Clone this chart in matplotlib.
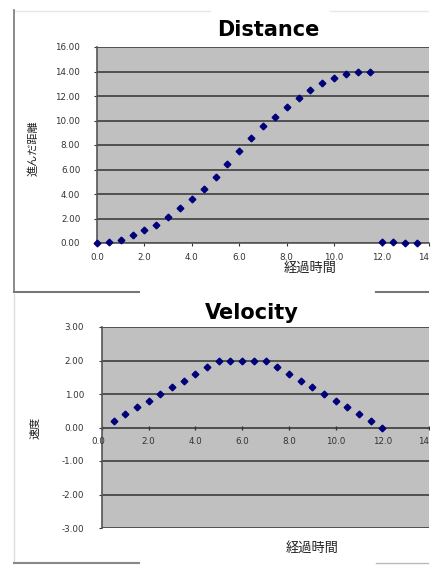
import matplotlib
matplotlib.use("Agg")
import matplotlib.pyplot as plt
from matplotlib.lines import Line2D

plt.rcParams['font.family'] = ['DejaVu Sans', 'Noto Sans CJK JP']

# ---- data ----
dist_t = [0.0, 0.5, 1.0, 1.5, 2.0, 2.5, 3.0, 3.5, 4.0, 4.5, 5.0, 5.5, 6.0, 6.5,
          7.0, 7.5, 8.0, 8.5, 9.0, 9.5, 10.0, 10.5, 11.0, 11.5, 12.0, 12.5, 13.0, 13.5]
dist_v = [0.0, 0.05, 0.27, 0.62, 1.03, 1.46, 2.1, 2.84, 3.57, 4.43, 5.4, 6.46, 7.5, 8.57,
          9.54, 10.3, 11.1, 11.84, 12.5, 13.05, 13.43, 13.76, 13.92, 14.0, 0.05, 0.05, 0.0, 0.0]
vel_t = [0.5, 1.0, 1.5, 2.0, 2.5, 3.0, 3.5, 4.0, 4.5, 5.0, 5.5, 6.0,
         6.5, 7.0, 7.5, 8.0, 8.5, 9.0, 9.5, 10.0, 10.5, 11.0, 11.5, 12.0]
vel_v = [0.2, 0.4, 0.6, 0.8, 1.0, 1.2, 1.4, 1.6, 1.8, 2.0, 2.0, 2.0,
         2.0, 2.0, 1.8, 1.6, 1.4, 1.2, 1.0, 0.8, 0.6, 0.4, 0.2, 0.0]
x_ticks = [0, 2, 4, 6, 8, 10, 12, 14]
x_ticklabels = ["0.0", "2.0", "4.0", "6.0", "8.0", "10.0", "12.0", "14"]
dist_yticks = [0, 2, 4, 6, 8, 10, 12, 14, 16]
vel_yticks = [-3, -2, -1, 0, 1, 2, 3]
title_dist = "Distance"
title_vel = "Velocity"
xlabel = "経過時間"
ylabel_dist = "進んだ距離"
ylabel_vel = "速度"

W, H = 434, 565
fig = plt.figure(figsize=(W / 100, H / 100), dpi=100)
fig.patch.set_facecolor('white')

def fx(px):
    return px / W

def fy(py):
    return 1 - py / H

def ax_rect(l, t, r, b):
    return [fx(l), fy(b), fx(r) - fx(l), fy(t) - fy(b)]

PLOT_BG = '#c0c0c0'
GRID = '#505050'
TICKC = '#333333'
MARK = '#00007a'
CJK = ['Noto Sans CJK JP', 'DejaVu Sans']
TFS = 6.3

def style(ax):
    ax.set_facecolor(PLOT_BG)
    for s in ['top', 'right']:
        ax.spines[s].set_visible(False)
    ax.spines['left'].set_color('#555555')
    ax.spines['left'].set_linewidth(1.2)
    ax.spines['bottom'].set_color('#555555')
    ax.spines['bottom'].set_linewidth(1.2)
    ax.yaxis.grid(True, color=GRID, linewidth=1.4)
    ax.set_axisbelow(True)
    ax.tick_params(axis='both', colors=TICKC, labelsize=TFS, length=2, width=0.8)

# ---- top chart ----
ax1 = fig.add_axes(ax_rect(97, 47, 429, 243))
style(ax1)
ax1.plot(dist_t, dist_v, linestyle='none', marker='D', markersize=3.4,
         color=MARK, zorder=3, clip_on=False)
ax1.set_xlim(0, 14)
ax1.set_ylim(0, 16)
ax1.set_xticks(x_ticks)
ax1.set_xticklabels(x_ticklabels)
ax1.get_xticklabels()[-1].set_horizontalalignment('right')
ax1.set_yticks(dist_yticks)
ax1.set_yticklabels([f"{v:.2f}" for v in dist_yticks])
ax1.tick_params(axis='x', pad=5)
ax1.tick_params(axis='y', pad=10)

fig.text(fx(268), fy(30), title_dist, ha='center', va='center',
         fontsize=15, fontweight='bold', color='black')
fig.text(fx(310), fy(268), xlabel, ha='center', va='center',
         fontsize=9.5, color='#222222', family=CJK)
fig.text(fx(33), fy(148), ylabel_dist, ha='center', va='center',
         fontsize=8, color='#222222', rotation=90, family=CJK)

# ---- bottom chart ----
ax2 = fig.add_axes(ax_rect(102, 327, 429, 528))
style(ax2)
ax2.spines['bottom'].set_visible(False)
ax2.axhline(0, color=GRID, linewidth=1.4, zorder=1)
ax2.plot(vel_t, vel_v, linestyle='none', marker='D', markersize=3.4,
         color=MARK, zorder=3, clip_on=False)
ax2.set_xlim(0, 14)
ax2.set_ylim(-3, 3)
ax2.set_yticks(vel_yticks)
ax2.set_yticklabels([f"{v:.2f}" for v in vel_yticks])
ax2.tick_params(axis='y', pad=11)
ax2.set_xticks(x_ticks)
ax2.set_xticklabels([])
ax2.tick_params(axis='x', length=0)
for i, (xv, lab) in enumerate(zip(x_ticks, x_ticklabels)):
    ha = 'right' if i == len(x_ticks) - 1 else 'center'
    xpos = xv - 0.15 if i == 0 else xv
    ax2.text(xpos, -0.28, lab, ha=ha, va='top',
             fontsize=TFS, color=TICKC, zorder=4, clip_on=False)
ax2.plot(x_ticks, [0] * len(x_ticks), linestyle='none', marker='|',
         markersize=3, color='#333333', zorder=2)

fig.text(fx(252), fy(313), title_vel, ha='center', va='center',
         fontsize=15, fontweight='bold', color='black',
         bbox=dict(facecolor='white', edgecolor='none', pad=1.5), zorder=5)
fig.text(fx(312), fy(548), xlabel, ha='center', va='center',
         fontsize=9.5, color='#222222', family=CJK)
fig.text(fx(35), fy(428), ylabel_vel, ha='center', va='center',
         fontsize=8, color='#222222', rotation=90, family=CJK)

# ---- frame lines ----
def hline(x0, x1, y, color, lw):
    fig.add_artist(Line2D([fx(x0), fx(x1)], [fy(y), fy(y)], color=color, linewidth=lw, zorder=6))

def vline(x, y0, y1, color, lw):
    fig.add_artist(Line2D([fx(x), fx(x)], [fy(y0), fy(y1)], color=color, linewidth=lw, zorder=6))

hline(14, 210, 10.5, '#e8e8e8', 1.0)
hline(330, 428, 10.5, '#e8e8e8', 1.0)
vline(14, 10, 292, '#777777', 1.2)
hline(14, 139, 292, '#777777', 1.5)
hline(376, 428, 292, '#777777', 1.5)
vline(14, 294, 563, '#dddddd', 1.0)
hline(14, 139, 563, '#888888', 1.5)
hline(376, 428, 563, '#bbbbbb', 1.0)

fig.savefig('out.png', dpi=100, facecolor='white')
